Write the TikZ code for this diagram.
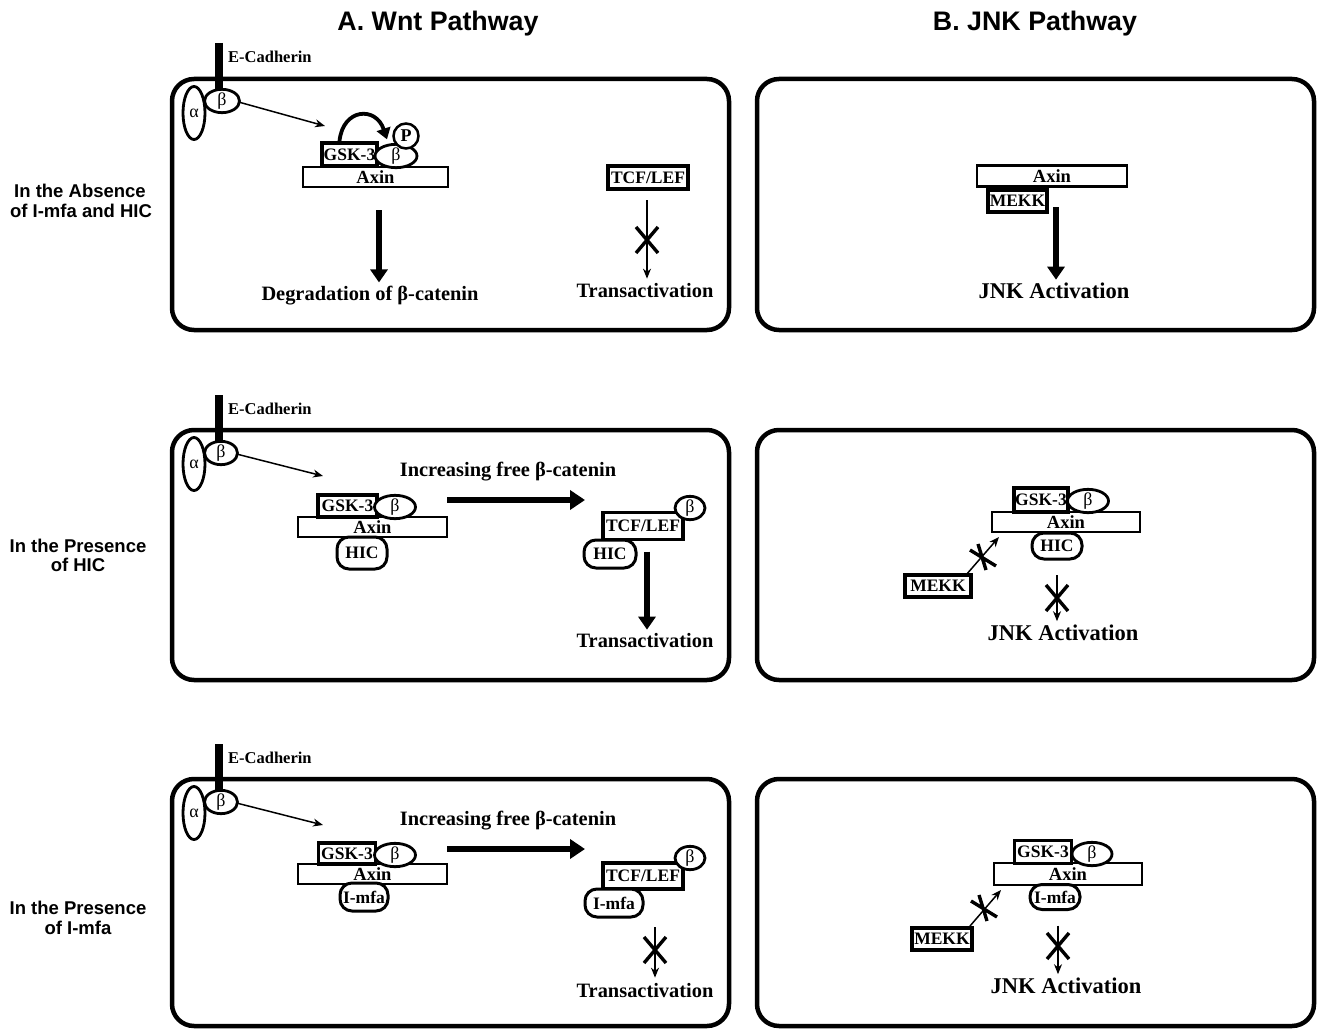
\documentclass[tikz,border=0pt]{standalone}
\usepackage{fontspec}
\setmainfont{Liberation Serif}
\newfontfamily\hdfont{Liberation Sans}
\usetikzlibrary{arrows.meta,shapes.geometric,calc}
\newcommand\xcross[1]{\draw[xm] ($(#1)+(-11,-13)$) -- ($(#1)+(11,13)$) ($(#1)+(-11,13)$) -- ($(#1)+(11,-13)$);}
\newcommand\xcrossd[1]{\draw[xm] ($(#1)+(-13,-7)$) -- ($(#1)+(13,9)$) ($(#1)+(-5,-13)$) -- ($(#1)+(3,13)$);}
\begin{document}
\begin{tikzpicture}[x=1pt,y=-1pt,
  panel/.style={draw,line width=4.5pt,rounded corners=22pt},
  heavybox/.style={draw,line width=3.3pt,fill=white,inner sep=0pt,outer sep=0pt,font=\fontsize{17.5}{17.5}\selectfont\bfseries},
  axinbox/.style={draw,line width=2.8pt,fill=white,inner sep=0pt,outer sep=0pt,minimum height=20pt,font=\fontsize{18.5}{18.5}\selectfont\bfseries},
  ell/.style={ellipse,draw,line width=2.8pt,fill=white,inner sep=0pt,outer sep=0pt,font=\fontsize{18}{18}\selectfont},
  pill/.style={draw,line width=3pt,fill=white,rounded corners=12pt,inner sep=0pt,outer sep=0pt,font=\fontsize{17.5}{17.5}\selectfont\bfseries},
  lbl/.style={font=\fontsize{20.4}{20.4}\selectfont\bfseries,inner sep=0pt,anchor=base},
  jnk/.style={font=\fontsize{22.5}{22.5}\selectfont\bfseries,inner sep=0pt,anchor=base},
  ecad/.style={font=\fontsize{16.5}{16.5}\selectfont\bfseries,inner sep=0pt,anchor=base west},
  bar/.style={line width=8.5pt},
  thinarr/.style={line width=1.5pt,-{Stealth[length=10pt,width=8pt]}},
  thickarr/.style={line width=5.8pt,-{Triangle[length=13pt,width=17pt]}},
  xm/.style={line width=3.4pt},
  head/.style={font=\hdfont\fontsize{26.8}{26.8}\selectfont\bfseries,inner sep=0pt,anchor=base},
  row/.style={font=\hdfont\fontsize{18.5}{18.5}\selectfont\bfseries,inner sep=0pt,anchor=base}
]
\useasboundingbox (0,0) rectangle (1317,1030);

% headings
\node[head] (hA) at (438,31) {A. Wnt Pathway};
\node[head] (hB) at (1035,31) {B. JNK Pathway};

% row labels
\node[row] (r1a) at (80,197) {In the Absence};
\node[row] (r1b) at (81,217) {of I-mfa and HIC};
\node[row] (r2a) at (78,552) {In the Presence};
\node[row] (r2b) at (78,571) {of HIC};
\node[row] (r3a) at (78,914) {In the Presence};
\node[row] (r3b) at (78,934) {of I-mfa};

% panels
\draw[panel] (172,79) rectangle (729,330);
\draw[panel] (757,79) rectangle (1314,330);
\draw[panel] (172,430) rectangle (729,680);
\draw[panel] (757,430) rectangle (1314,680);
\draw[panel] (172,779) rectangle (729,1026);
\draw[panel] (757,779) rectangle (1314,1026);

%================ Row 1, Wnt =================
\coordinate (ec1) at (219,43);
\node[ecad] (ecl1) at (228,63) {E-Cadherin};
\node[ell,minimum width=22pt,minimum height=53pt] (al1) at (194,113) {α};
\node[ell,minimum width=35pt,minimum height=23pt] (be1) at (222,101) {β};
\draw[bar] (ec1) -- (ec1 |- be1.north);
\coordinate (tip1) at (325,126);
\draw[thinarr] ($(be1.east)+(-1,1)$) -- (tip1);
\node[axinbox,minimum width=145pt] (ax1) at (375.5,177) {Axin};
\node[heavybox,minimum width=55pt,minimum height=23pt] (gsk1) at (349.5,154.5) {GSK-3};
\node[ell,minimum width=42pt,minimum height=21pt] (b1) at (396,156) {β};
\node[circle,draw,line width=2.5pt,fill=white,inner sep=0pt,minimum size=25pt,font=\fontsize{18}{18}\selectfont\bfseries] (p1) at (406,136) {P};
\draw[line width=3.8pt,-{Triangle[length=11pt,width=14pt]}] ($(gsk1.north)+(-10,-2)$) .. controls (343,108) and (376,106) .. ($(b1.north)+(-9,-5)$);
\node[lbl] (deg1) at (370,300) {Degradation of β-catenin};
\coordinate (d1s) at ($(ax1.south)+(3.5,23)$);
\draw[thickarr,shorten >=3pt] (d1s) -- (d1s |- deg1.north);
\node[heavybox,minimum width=80pt,minimum height=23pt] (tcf1) at (648,177.5) {TCF/LEF};
\node[lbl] (tr1) at (645,297) {Transactivation};
\coordinate (t1s) at ($(tcf1.south)+(-1,11)$);
\draw[thinarr,shorten >=4pt] (t1s) -- (t1s |- tr1.north);
\coordinate (x1) at (647,240);
\xcross{x1}

%================ Row 1, JNK =================
\node[axinbox,minimum width=150pt,minimum height=21pt] (axr1) at (1052,176) {Axin};
\node[heavybox,minimum width=59pt,minimum height=22pt] (mk1) at (1017.5,201) {MEKK};
\node[jnk] (jk1) at (1054,298.5) {JNK Activation};
\coordinate (j1s) at ($(mk1.north east)+(9,17)$);
\draw[thickarr,shorten >=3pt] (j1s) -- (j1s |- jk1.north);

%================ Row 2, Wnt =================
\coordinate (ec2) at (219,395);
\node[ecad] (ecl2) at (228,414) {E-Cadherin};
\node[ell,minimum width=22pt,minimum height=53pt] (al2) at (194,464) {α};
\node[ell,minimum width=33pt,minimum height=23pt] (be2) at (221,453) {β};
\draw[bar] (ec2) -- (ec2 |- be2.north);
\coordinate (tip2) at (323,476);
\draw[thinarr] ($(be2.east)+(-1,1)$) -- (tip2);
\node[lbl] (inc2) at (508,476) {Increasing free β-catenin};
\node[axinbox,minimum width=149pt] (ax2) at (372.5,527) {Axin};
\node[heavybox,minimum width=59pt,minimum height=22pt] (gsk2) at (347.5,506) {GSK-3};
\node[ell,minimum width=41pt,minimum height=21pt] (b2) at (395,507) {β};
\node[pill,minimum width=50pt,minimum height=32pt] (hic2) at (362,553) {HIC};
\node[heavybox,minimum width=80pt,minimum height=27pt] (tcf2) at (643,526) {TCF/LEF};
\node[ell,minimum width=30pt,minimum height=20pt] (bt2) at (690,508) {β};
\node[pill,minimum width=52pt,minimum height=28pt] (hict2) at (610,554) {HIC};
\coordinate (h2s) at ($(ax2.north east)+(0,-17)$);
\draw[line width=6.3pt,-{Triangle[length=15pt,width=19pt]},shorten >=18pt] (h2s) -- (h2s -| tcf2.west);
\node[lbl] (tr2) at (645,647) {Transactivation};
\coordinate (t2s) at ($(tcf2.south)+(4,12)$);
\draw[thickarr,shorten >=3pt] (t2s) -- (t2s |- tr2.north);

%================ Row 2, JNK =================
\node[axinbox,minimum width=148pt] (axr2) at (1066,522) {Axin};
\node[heavybox,minimum width=54pt,minimum height=24pt] (gskr2) at (1041,500) {GSK-3};
\node[ell,minimum width=41pt,minimum height=22pt] (br2) at (1088,501) {β};
\node[pill,minimum width=50pt,minimum height=26pt] (hicr2) at (1057,546) {HIC};
\node[heavybox,minimum width=66pt,minimum height=22pt] (mkr2) at (938,586) {MEKK};
\node[jnk] (jk2) at (1063,640) {JNK Activation};
\draw[thinarr] ($(mkr2.north east)+(-5,0)$) -- ($(axr2.south west)+(7,5)$);
\coordinate (x2a) at (983,557);
\xcrossd{x2a}
\coordinate (j2s) at ($(hicr2.south)+(0,16)$);
\draw[thinarr,shorten >=3pt] (j2s) -- (j2s |- jk2.north);
\coordinate (x2b) at (1057,598);
\xcross{x2b}

%================ Row 3, Wnt =================
\coordinate (ec3) at (219,744);
\node[ecad] (ecl3) at (228,763) {E-Cadherin};
\node[ell,minimum width=22pt,minimum height=53pt] (al3) at (194,813) {α};
\node[ell,minimum width=33pt,minimum height=23pt] (be3) at (221,802) {β};
\draw[bar] (ec3) -- (ec3 |- be3.north);
\coordinate (tip3) at (323,825);
\draw[thinarr] ($(be3.east)+(-1,1)$) -- (tip3);
\node[lbl] (inc3) at (508,825) {Increasing free β-catenin};
\node[axinbox,minimum width=149pt] (ax3) at (372.5,874) {Axin};
\node[heavybox,minimum width=57pt,minimum height=21pt] (gsk3) at (347,853.5) {GSK-3};
\node[ell,minimum width=41pt,minimum height=21pt] (b3) at (395,855) {β};
\node[pill,minimum width=48pt,minimum height=28pt] (im3) at (364,897) {I-mfa};
\node[heavybox,minimum width=80pt,minimum height=26pt] (tcf3) at (643,876) {TCF/LEF};
\node[ell,minimum width=30pt,minimum height=20pt] (bt3) at (690,858) {β};
\node[pill,minimum width=58pt,minimum height=28pt] (imt3) at (614,903) {I-mfa};
\coordinate (h3s) at ($(ax3.north east)+(0,-15)$);
\draw[line width=6.3pt,-{Triangle[length=15pt,width=19pt]},shorten >=18pt] (h3s) -- (h3s -| tcf3.west);
\node[lbl] (tr3) at (645,997) {Transactivation};
\coordinate (t3s) at ($(imt3.south)+(41,10)$);
\draw[thinarr,shorten >=5pt] (t3s) -- (t3s |- tr3.north);
\coordinate (x3) at (655,950);
\xcross{x3}

%================ Row 3, JNK =================
\node[axinbox,minimum width=148pt,minimum height=22pt] (axr3) at (1068,874) {Axin};
\node[heavybox,minimum width=57pt,minimum height=23pt] (gskr3) at (1043,852) {GSK-3};
\node[ell,minimum width=40pt,minimum height=21pt] (br3) at (1092,854) {β};
\node[pill,minimum width=50pt,minimum height=25pt] (imr3) at (1055,897) {I-mfa};
\node[heavybox,minimum width=60pt,minimum height=22pt] (mkr3) at (942,939) {MEKK};
\node[jnk] (jk3) at (1066,993) {JNK Activation};
\draw[thinarr] ($(mkr3.north east)+(-2,-2)$) -- ($(axr3.south west)+(7,5)$);
\coordinate (x3a) at (984,908);
\xcrossd{x3a}
\coordinate (j3s) at ($(imr3.south)+(3,16)$);
\draw[thinarr,shorten >=3pt] (j3s) -- (j3s |- jk3.north);
\coordinate (x3b) at (1058,946);
\xcross{x3b}
\end{tikzpicture}
\end{document}
